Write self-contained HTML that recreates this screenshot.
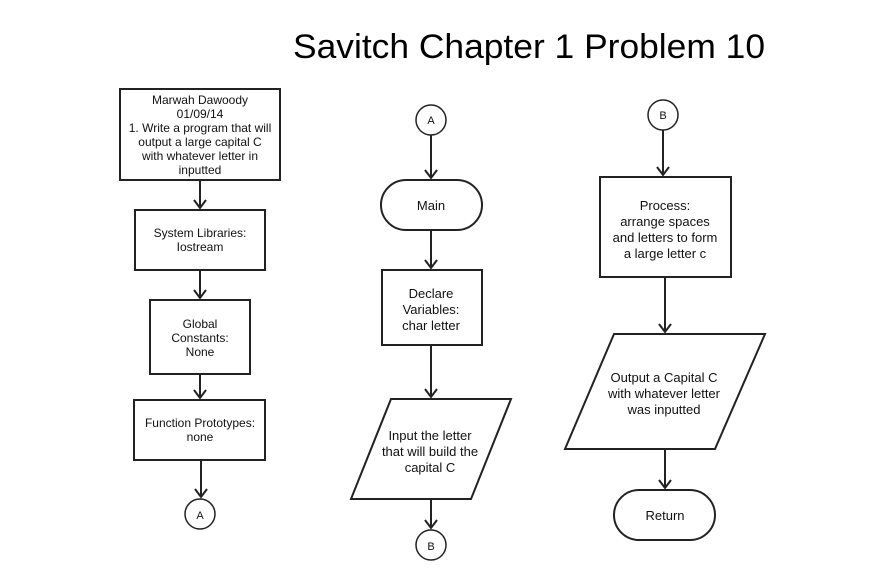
<!DOCTYPE html>
<html><head><meta charset="utf-8"><style>html,body{margin:0;padding:0;background:#fff}svg{display:block}</style></head><body>
<svg width="895" height="580" viewBox="0 0 895 580" xmlns="http://www.w3.org/2000/svg" font-family="Liberation Sans, Arial, sans-serif" font-size="12" fill="none" stroke="#222" stroke-width="2">
<rect width="895" height="580" fill="#fff" stroke="none"/>
<text x="293" y="58" font-size="34" fill="#000" stroke="none" textLength="472" lengthAdjust="spacingAndGlyphs">Savitch Chapter 1 Problem 10</text>
<g fill="#fff">
<rect x="120" y="89" width="160" height="91"/>
<rect x="135" y="210" width="130" height="60"/>
<rect x="150" y="300" width="100" height="74"/>
<rect x="134" y="400" width="131" height="60"/>
<circle cx="200" cy="514" r="15" stroke-width="1.5"/>
<circle cx="431" cy="120" r="15" stroke-width="1.5"/>
<rect x="381" y="180" width="101" height="50" rx="25"/>
<rect x="382" y="270" width="100" height="75"/>
<polygon points="391,399 511,399 471,499 351,499"/>
<circle cx="431" cy="545" r="15" stroke-width="1.5"/>
<circle cx="663" cy="115" r="15" stroke-width="1.5"/>
<rect x="600" y="177" width="131" height="100"/>
<polygon points="614,334 765,334 715,449 565,449"/>
<rect x="614" y="490" width="101" height="50" rx="25"/>
</g>
<g stroke-width="2">
<path d="M200 180V208M194 200l6 8 6-8M200 270V298M194 290l6 8 6-8M200 374V398M194 390l6 8 6-8M201 460V497M195 489l6 8 6-8"/>
<path d="M431 135V178M425 170l6 8 6-8M431 230V268M425 260l6 8 6-8M431 345V397M425 389l6 8 6-8M431 499V528M425 520l6 8 6-8"/>
<path d="M663 130V175M657 167l6 8 6-8M665 277V332M659 324l6 8 6-8M665 449V488M659 480l6 8 6-8"/>
</g>
<g fill="#111" stroke="none" text-anchor="middle">
<text x="200" y="104">Marwah Dawoody</text>
<text x="200" y="118">01/09/14</text>
<text x="200" y="132">1. Write a program that will</text>
<text x="200" y="146">output a large capital C</text>
<text x="200" y="160">with whatever letter in</text>
<text x="200" y="174">inputted</text>
<text x="200" y="237">System Libraries:</text>
<text x="200" y="251">Iostream</text>
<text x="200" y="328">Global</text>
<text x="200" y="342">Constants:</text>
<text x="200" y="356">None</text>
<text x="200" y="427">Function Prototypes:</text>
<text x="200" y="441">none</text>
<text x="200" y="519" font-size="11">A</text>
<text x="431" y="124" font-size="11">A</text>
<text x="431" y="210" font-size="13">Main</text>
<text x="431" y="298" font-size="13">Declare</text>
<text x="431" y="314" font-size="13">Variables:</text>
<text x="431" y="330" font-size="13">char letter</text>
<text x="430" y="440" font-size="13">Input the letter</text>
<text x="430" y="456" font-size="13">that will build the</text>
<text x="430" y="472" font-size="13">capital C</text>
<text x="431" y="550" font-size="11">B</text>
<text x="663" y="119" font-size="11">B</text>
<text x="665" y="210" font-size="13">Process:</text>
<text x="665" y="226" font-size="13">arrange spaces</text>
<text x="665" y="242" font-size="13">and letters to form</text>
<text x="665" y="258" font-size="13">a large letter c</text>
<text x="664" y="382" font-size="13">Output a Capital C</text>
<text x="664" y="398" font-size="13">with whatever letter</text>
<text x="664" y="414" font-size="13">was inputted</text>
<text x="665" y="520" font-size="13">Return</text>
</g>
</svg>
</body></html>
